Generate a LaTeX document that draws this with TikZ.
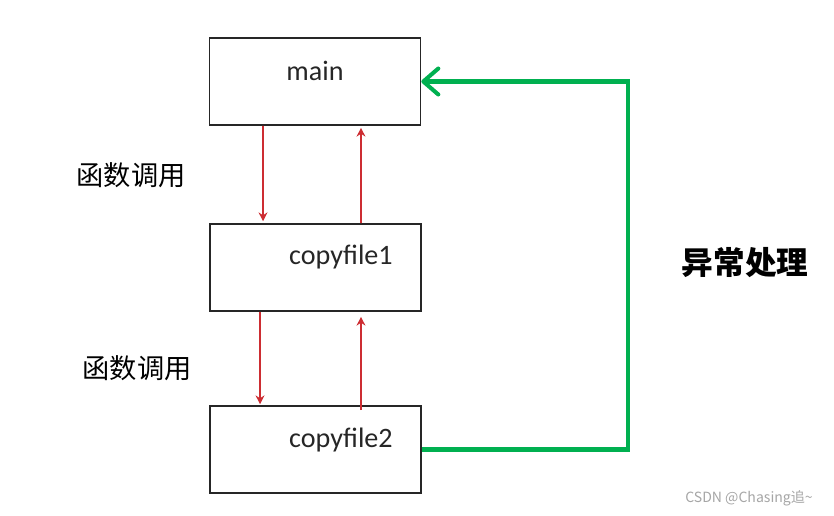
\documentclass[tikz,border=0pt]{standalone}
\usepackage{fontspec}
\setmainfont{Carlito}
\newfontfamily\cjk{Noto Sans CJK SC}
\usetikzlibrary{arrows.meta,positioning}
\definecolor{callred}{RGB}{205,45,50}
\definecolor{errgreen}{RGB}{0,176,80}

\begin{document}
\begin{tikzpicture}[x=0.02cm,y=-0.02cm,>=Stealth,every node/.style={inner sep=1pt},
  box/.style={draw=black!85,line width=0.9pt,minimum width=4.22cm,minimum height=1.74cm,inner sep=0pt},
  boxtext/.style={font=\fontsize{16}{19}\selectfont,text=black!85},
  call/.style={draw=callred,line width=1pt,-{Stealth[length=5pt,width=5pt]}},
  calltext/.style={font=\cjk\fontsize{15.5}{18}\selectfont}]
  \useasboundingbox (0,0) rectangle (834,515);
  % the three functions
  \node[box] (main) at (315,81.5) {};
  \node[box] (cf1) at (315.5,267.5) {};
  \node[box] (cf2) at (315.5,449.5) {};
  \node[boxtext] (mainlbl) at (315,71) {main};
  \node[boxtext] (cf1lbl) at (341,257) {copyfile1};
  \node[boxtext] (cf2lbl) at (341,440) {copyfile2};
  % calls and returns
  \draw[call] ([xshift=-1.04cm]main.south) -- ([xshift=-1.05cm,yshift=0.04cm]cf1.north);
  \draw[call] ([xshift=0.91cm]cf1.north) -- ([xshift=0.92cm,yshift=-0.04cm]main.south);
  \draw[call] ([xshift=-1.11cm]cf1.south) -- ([xshift=-1.11cm,yshift=0.02cm]cf2.north);
  \draw[call] ([xshift=0.91cm,yshift=-0.1cm]cf2.north) -- ([xshift=0.91cm,yshift=-0.1cm]cf1.south);
  \node[calltext] (call1) at (131,175) {函数调用};
  \node[calltext] (call2) at (137,368) {函数调用};
  % exception path back to main
  \coordinate (turn) at (628,81.5);
  \draw[errgreen,line width=2.3pt,line join=miter,-{Straight Barb[length=0.3cm,width=0.52cm,round]}]
    (cf2.east) -| (turn) -- (main.east);
  \node[font=\cjk\bfseries\fontsize{18}{22}\selectfont] (err) at (745,263) {异常处理};
  \node[font=\cjk\fontsize{8}{10}\selectfont,text=black!35] (mark) at (749,498) {CSDN @Chasing追\textasciitilde};
\end{tikzpicture}
\end{document}
